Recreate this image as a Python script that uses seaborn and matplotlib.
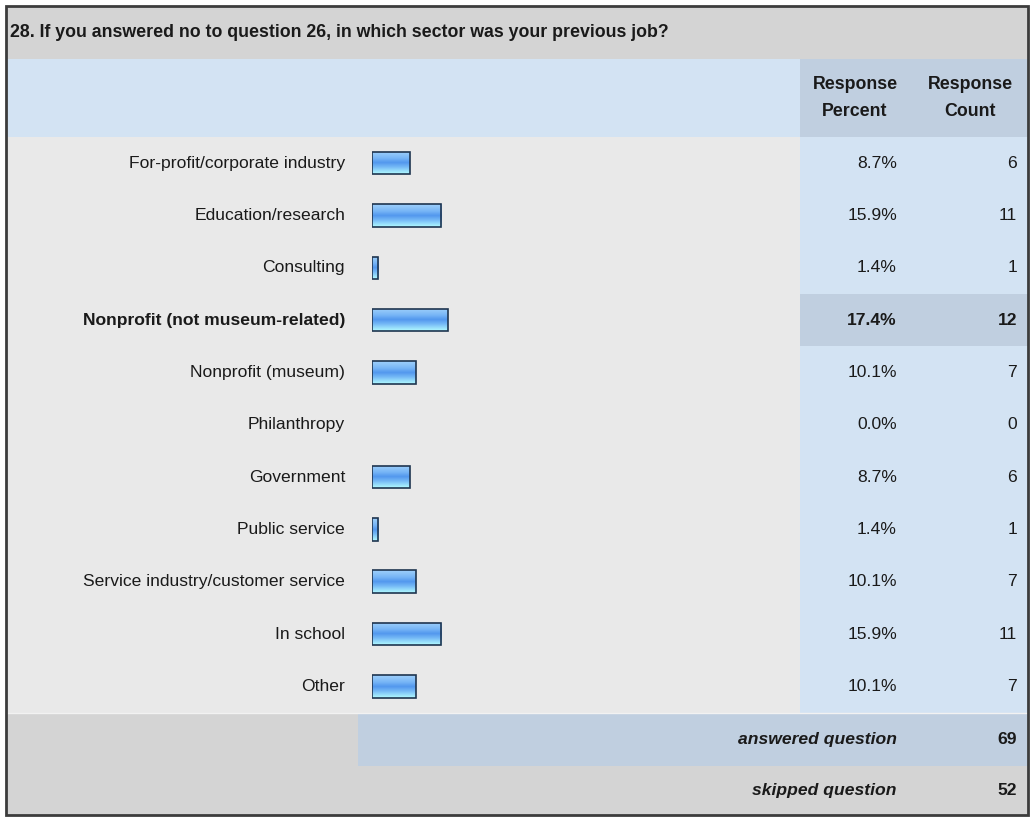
import matplotlib
matplotlib.use("Agg")
import matplotlib.pyplot as plt
import matplotlib.patches as mpatches
from matplotlib.colors import LinearSegmentedColormap
import seaborn as sns
import numpy as np
import pandas as pd

# datos de la encuesta
titulo = "28. If you answered no to question 26, in which sector was your previous job?"
categorias = [
    "For-profit/corporate industry",
    "Education/research",
    "Consulting",
    "Nonprofit (not museum-related)",
    "Nonprofit (museum)",
    "Philanthropy",
    "Government",
    "Public service",
    "Service industry/customer service",
    "In school",
    "Other",
]
porcentajes = [8.7, 15.9, 1.4, 17.4, 10.1, 0.0, 8.7, 1.4, 10.1, 15.9, 10.1]
conteos = [6, 11, 1, 12, 7, 0, 6, 1, 7, 11, 7]
respondidas = 69
omitidas = 52
fila_destacada = 3

df = pd.DataFrame({"categoria": categorias, "pct": porcentajes, "n": conteos})

sns.set_theme(style="white")
plt.rcParams["font.family"] = ["Liberation Sans", "DejaVu Sans"]

W, H = 1030, 817
fig = plt.figure(figsize=(W / 100, H / 100), dpi=100)

# fondo en coordenadas de pixel
bg = fig.add_axes([0, 0, 1, 1])
bg.set_xlim(0, W)
bg.set_ylim(H, 0)
bg.axis("off")

gris_titulo = "#d4d4d4"
azul_claro = "#d3e3f3"
azul_oscuro = "#c0cfe0"
gris_cuerpo = "#e9e9e9"
txt = "#1a1a1a"
fs = 12.6

x0, x1 = 6, 1028
y_tit, y_head, y_body, y_foot, y_skip, y_end = 6, 59, 137, 712.5, 766, 815
x_cols = 800
row_h = (y_foot - y_body) / len(categorias)


def rect(x, y, w, h, c):
    bg.add_patch(mpatches.Rectangle((x, y), w, h, facecolor=c, edgecolor="none", zorder=0))


rect(x0, y_tit, x1 - x0, y_head - y_tit, gris_titulo)
rect(x0, y_head, x1 - x0, y_body - y_head, azul_claro)
rect(x_cols, y_head, x1 - x_cols, y_body - y_head, azul_oscuro)
rect(x0, y_body, x_cols - x0, y_foot - y_body, gris_cuerpo)
rect(x_cols, y_body, x1 - x_cols, y_foot - y_body, azul_claro)
rect(x_cols, y_body + fila_destacada * row_h, x1 - x_cols, row_h, azul_oscuro)
rect(x0, y_foot, x1 - x0, y_end - y_foot, gris_titulo)
rect(358, y_foot, x1 - 358, y_skip - y_foot, azul_oscuro)
bg.plot([x0, x1], [y_foot, y_foot], color="#f2f2f2", lw=1, zorder=1)
bg.add_patch(mpatches.Rectangle((x0, y_tit), x1 - x0, y_end - y_tit, facecolor="none",
                                edgecolor="#3c3c3c", lw=2, zorder=5))

# textos
bg.text(10, (y_tit + y_head) / 2, titulo, fontsize=12.8, fontweight="bold", color=txt,
        va="center", ha="left")
x_pct, x_cnt, x_lab = 897, 1017, 345
bg.text(855, (y_head + y_body) / 2, "Response\nPercent", fontsize=12.8, fontweight="bold",
        color=txt, ha="center", va="center", linespacing=1.7)
bg.text(970, (y_head + y_body) / 2, "Response\nCount", fontsize=12.8, fontweight="bold",
        color=txt, ha="center", va="center", linespacing=1.7)

for i, fila in df.iterrows():
    yc = y_body + (i + 0.5) * row_h
    peso = "bold" if i == fila_destacada else "normal"
    bg.text(x_lab, yc, fila["categoria"], fontsize=fs, fontweight=peso, color=txt, ha="right", va="center")
    bg.text(x_pct, yc, f"{fila['pct']:.1f}%", fontsize=fs, fontweight=peso, color=txt, ha="right", va="center")
    bg.text(x_cnt, yc, str(fila["n"]), fontsize=fs, fontweight=peso, color=txt, ha="right", va="center")

bg.text(x_pct, (y_foot + y_skip) / 2, "answered question", fontsize=fs, fontweight="bold",
        fontstyle="italic", color=txt, ha="right", va="center")
bg.text(x_cnt, (y_foot + y_skip) / 2, str(respondidas), fontsize=fs, fontweight="bold",
        color=txt, ha="right", va="center")
bg.text(x_pct, (y_skip + y_end) / 2, "skipped question", fontsize=fs, fontweight="bold",
        fontstyle="italic", color=txt, ha="right", va="center")
bg.text(x_cnt, (y_skip + y_end) / 2, str(omitidas), fontsize=fs, fontweight="bold",
        color=txt, ha="right", va="center")

# barras: 100% = 435 px
ax = fig.add_axes([372 / W, (H - y_foot) / H, 435 / W, (y_foot - y_body) / H])
ax.patch.set_alpha(0)
sns.barplot(data=df, x="pct", y="categoria", orient="h", color="#5aa0f0",
            width=0.43, edgecolor="#1f3550", linewidth=1.2, ax=ax)
ax.set_xlim(0, 100)
ax.set_ylim(len(categorias) - 0.5, -0.5)
ax.axis("off")

grad = LinearSegmentedColormap.from_list(
    "barra", [(0, "#9fd0fb"), (0.3, "#78b6f6"), (0.5, "#5297ee"), (0.7, "#76baf6"), (1, "#b2fbff")])
g = np.linspace(0, 1, 64).reshape(-1, 1)
for p in ax.patches:
    if p.get_width() <= 0:
        p.set_visible(False)
        continue
    x, y = p.get_x(), p.get_y()
    w, h = p.get_width(), p.get_height()
    im = ax.imshow(g, cmap=grad, aspect="auto", extent=(x, x + w, y + h, y),
                   origin="upper", zorder=p.get_zorder() - 0.1)
    im.set_clip_path(p)
    p.set_facecolor("none")
ax.set_xlim(0, 100)
ax.set_ylim(len(categorias) - 0.5, -0.5)

fig.savefig("out.png", dpi=100)
